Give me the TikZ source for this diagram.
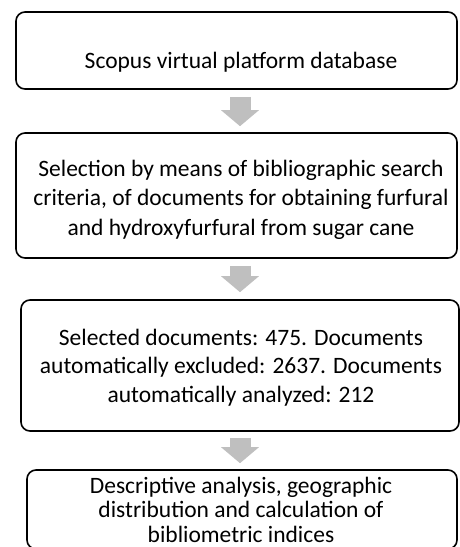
\documentclass[tikz,border=0pt]{standalone}
\usepackage{fontspec}
\setmainfont{Carlito}
\usepackage{tikz}
\usetikzlibrary{arrows.meta,positioning}

\begin{document}
\begin{tikzpicture}[
		x=1pt, y=-1pt,
		box/.style={draw, line width=1.6pt, rounded corners=9pt, minimum width=#1},
		txt/.style={align=center, anchor=base, inner sep=0pt, font=\fontsize{23.5}{#1}\selectfont},
		flow/.style={line width=21pt, draw=black!25, -{Triangle[length=16pt, width=37pt]}},
		]
	\useasboundingbox (0,0) rectangle (460,547);

	% Cadres
	\node[box=441pt, minimum height=77pt] (b1) at (236.5, 50.5) {};
	\node[box=441pt, minimum height=125pt] (b2) at (236.5, 195.5) {};
	\node[box=438pt, minimum height=131pt] (b3) at (240, 365.5) {};
	\node[box=430pt, minimum height=79pt] (b4) at (242, 509.5) {};

	% Textes (base = derniere ligne)
	\node[txt=30] (t1) at (241, 68) {Scopus virtual platform database};
	\node[txt=29.5] (t2) at (241, 235) {Selection by means of bibliographic search\\criteria, of documents for obtaining furfural\\and hydroxyfurfural from sugar cane};
	\node[txt=28.5] (t3) at (241, 402) {Selected documents: 475. Documents\\automatically excluded: 2637. Documents\\automatically analyzed: 212};
	\node[txt=24.5] (t4) at (241, 542) {Descriptive analysis, geographic\\distribution and calculation of\\bibliometric indices};

	% Flèches
	\draw[flow, shorten <=7pt, shorten >=6pt] (b1.south -| b3) -- (b2.north -| b3);
	\draw[flow, shorten <=7pt, shorten >=7pt] (b2.south -| b3) -- (b3.north);
	\draw[flow, shorten <=6pt, shorten >=6pt] (b3.south) -- (b4.north -| b3);
\end{tikzpicture}
\end{document}
